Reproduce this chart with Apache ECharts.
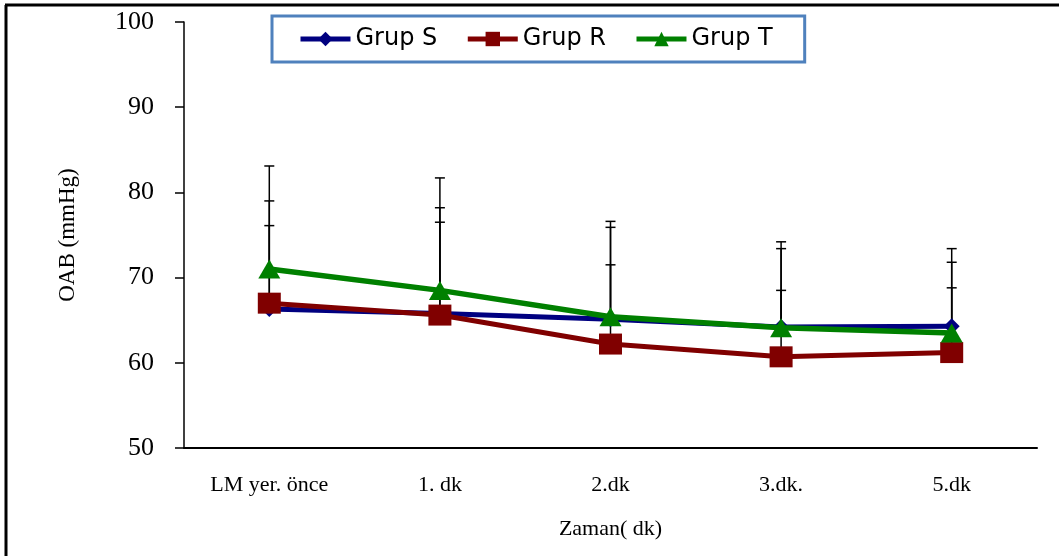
<!DOCTYPE html>
<html>
<head>
<meta charset="utf-8">
<script src="https://cdn.jsdelivr.net/npm/echarts@6/dist/echarts.min.js"></script>
<style>html,body{margin:0;padding:0;background:#fff}#c{width:1059px;height:556px}</style>
</head>
<body>
<div id="c"></div>
<script>
const categories = ['LM yer. önce', '1. dk', '2.dk', '3.dk.', '5.dk'];
const grupS = [66.3, 65.8, 65.1, 64.2, 64.3];
const grupR = [67.0, 65.6, 62.2, 60.7, 61.2];
const grupT = [71.0, 68.5, 65.4, 64.1, 63.5];
// upper ends of the error bars (mean + SD)
const errS = [76.1, 76.5, 71.5, 68.5, 68.8];
const errR = [79.0, 78.2, 75.9, 73.4, 71.8];
const errT = [83.1, 81.7, 76.6, 74.2, 73.4];
const yTicks = { min: 50, max: 100, interval: 10 };

function errData(means, ups) {
  return means.map((m, i) => [i, m, ups[i]]);
}
function renderErr(params, api) {
  const x = api.value(0);
  const lo = api.coord([x, api.value(1)]);
  const hi = api.coord([x, api.value(2)]);
  const cw = 5;
  const st = { stroke: '#000', lineWidth: 1.5 };
  return {
    type: 'group',
    children: [
      { type: 'line', shape: { x1: hi[0], y1: hi[1], x2: lo[0], y2: lo[1] }, style: st },
      { type: 'line', shape: { x1: hi[0] - cw, y1: hi[1], x2: hi[0] + cw, y2: hi[1] }, style: st }
    ]
  };
}

const chart = echarts.init(document.getElementById('c'), null, { renderer: 'canvas' });
const serif = 'Liberation Serif';
chart.setOption({
  animation: false,
  backgroundColor: '#fff',
  graphic: [
    { type: 'line', shape: { x1: 5, y1: 5, x2: 1059, y2: 5 }, style: { stroke: '#000', lineWidth: 3 } },
    { type: 'line', shape: { x1: 6, y1: 5, x2: 6, y2: 556 }, style: { stroke: '#000', lineWidth: 3 } }
  ],
  grid: { left: 184, right: 22, top: 22, bottom: 108 },
  legend: {
    left: 272, top: 16,
    padding: [11, 32, 11, 26],
    itemGap: 28,
    itemWidth: 50, itemHeight: 18,
    borderColor: '#4f81bd', borderWidth: 3,
    lineStyle: { width: 5 },
    textStyle: { fontFamily: 'DejaVu Sans', fontSize: 24, color: '#000' },
    data: ['Grup S', 'Grup R', 'Grup T']
  },
  xAxis: {
    type: 'category',
    data: categories,
    boundaryGap: true,
    name: 'Zaman( dk)',
    nameLocation: 'middle',
    nameGap: 70,
    nameTextStyle: { fontFamily: serif, fontSize: 22, color: '#000' },
    axisLine: { lineStyle: { color: '#000', width: 2 } },
    axisTick: { alignWithLabel: true, length: 5, lineStyle: { color: '#000', width: 1.5 } },
    axisLabel: { fontFamily: serif, fontSize: 22, color: '#000', margin: 26 }
  },
  yAxis: {
    type: 'value',
    min: yTicks.min, max: yTicks.max, interval: yTicks.interval,
    name: 'OAB (mmHg)',
    nameLocation: 'middle',
    nameGap: 105,
    nameRotate: 90,
    nameTextStyle: { fontFamily: serif, fontSize: 23, color: '#000' },
    splitLine: { show: false },
    axisLine: { show: true, lineStyle: { color: '#000', width: 1.5 } },
    axisTick: { show: true, length: 9, lineStyle: { color: '#000', width: 1.5 } },
    axisLabel: { fontFamily: serif, fontSize: 26, color: '#000', margin: 30 }
  },
  series: [
    { type: 'custom', name: 'errS', renderItem: renderErr, data: errData(grupS, errS), z: 1, silent: true },
    { type: 'custom', name: 'errR', renderItem: renderErr, data: errData(grupR, errR), z: 1, silent: true },
    { type: 'custom', name: 'errT', renderItem: renderErr, data: errData(grupT, errT), z: 1, silent: true },
    {
      name: 'Grup S', type: 'line', data: grupS, z: 3,
      symbol: 'diamond', symbolSize: [16, 16],
      color: '#000080',
      lineStyle: { width: 5, color: '#000080' },
      itemStyle: { color: '#000080' }
    },
    {
      name: 'Grup R', type: 'line', data: grupR, z: 4,
      symbol: 'rect', symbolSize: [23, 21],
      color: '#800000',
      lineStyle: { width: 5, color: '#800000' },
      itemStyle: { color: '#800000' }
    },
    {
      name: 'Grup T', type: 'line', data: grupT, z: 5,
      symbol: 'triangle', symbolSize: [22, 19],
      color: '#008000',
      lineStyle: { width: 5.5, color: '#008000' },
      itemStyle: { color: '#008000' }
    }
  ]
});
</script>
</body>
</html>
